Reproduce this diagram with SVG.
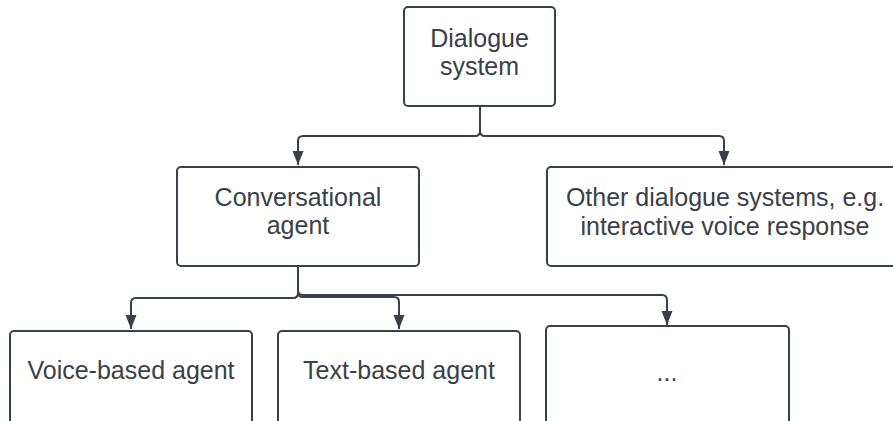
<svg xmlns="http://www.w3.org/2000/svg" width="893" height="421" viewBox="0 0 893 421">
  <style>
    .box { fill: #ffffff; stroke: #3a4049; stroke-width: 2; }
    .lbl { font-family: "Liberation Sans", Arial, sans-serif; font-size: 25px; fill: #3a4049; text-anchor: middle; }
    .conn { fill: none; stroke: #3a4049; stroke-width: 2; }
  </style>
  <defs>
    <marker id="arrow" viewBox="0 0 14 12" refX="14" refY="6" markerWidth="14" markerHeight="12" markerUnits="userSpaceOnUse" orient="auto">
      <path d="M0 0.5 L14 6 L0 11.5 Z" fill="#3a4049"/>
    </marker>
  </defs>
  <rect width="893" height="421" fill="#ffffff"/>

  <g id="connectors">
    <path class="conn" d="M480 106 V131 Q480 136 475 136 H303 Q298 136 298 141 V165" marker-end="url(#arrow)"/>
    <path class="conn" d="M480 106 V131 Q480 136 485 136 H719 Q724 136 724 141 V165" marker-end="url(#arrow)"/>
    <path class="conn" d="M298 266 V293 Q298 298 293 298 H136 Q131 298 131 303 V329" marker-end="url(#arrow)"/>
    <path class="conn" d="M298 266 V292 Q298 297 303 297 H394 Q399 297 399 302 V329" marker-end="url(#arrow)"/>
    <path class="conn" d="M298 266 V290 Q298 295 303 295 H662 Q667 295 667 300 V325" marker-end="url(#arrow)"/>
  </g>

  <g id="dialogue-system">
    <rect class="box" x="404" y="7" width="151" height="99" rx="4"/>
    <text class="lbl" x="479.5" y="47">Dialogue</text>
    <text class="lbl" x="479.5" y="75">system</text>
  </g>

  <g id="conversational-agent">
    <rect class="box" x="177" y="167" width="242" height="99" rx="4"/>
    <text class="lbl" x="298" y="206">Conversational</text>
    <text class="lbl" x="298" y="234">agent</text>
  </g>

  <g id="other-systems">
    <rect class="box" x="547" y="167" width="356" height="99" rx="4"/>
    <text class="lbl" x="725" y="206">Other dialogue systems, e.g.</text>
    <text class="lbl" x="725" y="235">interactive voice response</text>
  </g>

  <g id="voice-agent">
    <rect class="box" x="10" y="331" width="242" height="100" rx="4"/>
    <text class="lbl" x="131" y="379">Voice-based agent</text>
  </g>

  <g id="text-agent">
    <rect class="box" x="278" y="331" width="242" height="100" rx="4"/>
    <text class="lbl" x="399" y="379">Text-based agent</text>
  </g>

  <g id="more-agents">
    <rect class="box" x="546" y="326" width="243" height="105" rx="4"/>
    <text class="lbl" x="667" y="381">...</text>
  </g>
</svg>
